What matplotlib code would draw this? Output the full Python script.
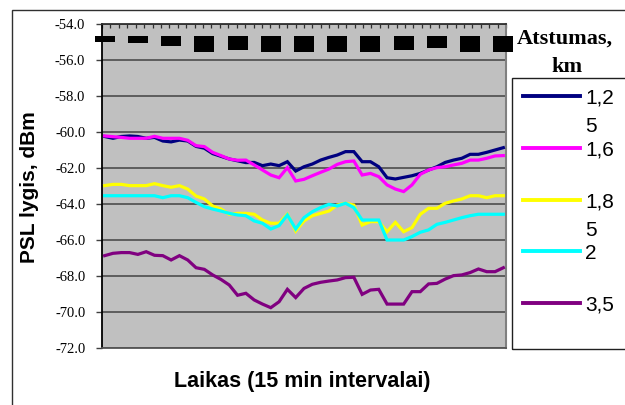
import numpy as np
import matplotlib
matplotlib.use("Agg")
import matplotlib.pyplot as plt
from matplotlib.patches import Rectangle
from matplotlib.lines import Line2D
from matplotlib.transforms import blended_transform_factory

# PSL lygis (dBm), viena reiksme kas 15 min
psl_1_25 = [-60.25, -60.35, -60.25, -60.22, -60.25, -60.35, -60.30, -60.50, -60.55, -60.45,
            -60.50, -60.80, -60.90, -61.20, -61.35, -61.50, -61.60,
            -61.70, -61.69, -61.87, -61.78, -61.87, -61.65, -62.17, -61.93, -61.78,
            -61.56, -61.41, -61.28, -61.09, -61.09, -61.65, -61.65,
            -61.93, -62.54, -62.61, -62.52, -62.43, -62.30, -62.11, -61.93, -61.69,
            -61.56, -61.46, -61.24, -61.24, -61.13, -61.00, -60.87]
psl_1_6 = [-60.22, -60.26, -60.30, -60.35, -60.35, -60.35, -60.24, -60.35, -60.35, -60.35,
           -60.46, -60.76, -60.81, -61.13, -61.31, -61.50, -61.57,
           -61.56, -61.83, -62.11, -62.39, -62.54, -61.98, -62.72, -62.63, -62.43,
           -62.24, -62.06, -61.80, -61.65, -61.61, -62.39, -62.30,
           -62.48, -62.94, -63.17, -63.31, -62.94, -62.35, -62.11, -61.98, -61.93,
           -61.83, -61.74, -61.56, -61.56, -61.46, -61.33, -61.31]
psl_1_85 = [-62.98, -62.91, -62.91, -62.98, -62.98, -62.98, -62.87, -62.98, -63.07, -62.98,
            -63.17, -63.56, -63.72, -64.11, -64.28, -64.57, -64.52,
            -64.52, -64.57, -64.89, -65.07, -65.07, -64.57, -65.50, -64.94, -64.65,
            -64.52, -64.39, -64.06, -63.96, -64.06, -65.17, -64.98,
            -64.98, -65.54, -65.02, -65.54, -65.31, -64.57, -64.24, -64.24, -63.96,
            -63.83, -63.72, -63.54, -63.54, -63.65, -63.54, -63.54]
psl_2 = [-63.54, -63.54, -63.54, -63.54, -63.54, -63.54, -63.54, -63.65, -63.54, -63.54,
         -63.65, -63.91, -64.15, -64.28, -64.39, -64.52, -64.61,
         -64.65, -64.94, -65.07, -65.39, -65.20, -64.61, -65.39, -64.76, -64.43,
         -64.20, -64.02, -64.11, -63.96, -64.20, -64.89, -64.89,
         -64.89, -66.00, -66.00, -66.00, -65.81, -65.57, -65.44, -65.13, -65.02,
         -64.89, -64.76, -64.65, -64.57, -64.57, -64.57, -64.57]
psl_3_5 = [-66.87, -66.74, -66.70, -66.70, -66.80, -66.65, -66.85, -66.87, -67.11, -66.87,
           -67.11, -67.54, -67.63, -67.94, -68.19, -68.50, -69.07,
           -68.96, -69.33, -69.56, -69.76, -69.43, -68.74, -69.20, -68.69, -68.46,
           -68.35, -68.28, -68.22, -68.09, -68.07, -69.02, -68.78,
           -68.74, -69.56, -69.56, -69.56, -68.87, -68.87, -68.44, -68.41, -68.17,
           -67.98, -67.94, -67.81, -67.61, -67.76, -67.76, -67.54]

serijos = [psl_1_25, psl_1_6, psl_1_85, psl_2, psl_3_5]
etiketes = ["1,2\n5", "1,6", "1,8\n5", "2", "3,5"]
spalvos = ["#000080", "#FF00FF", "#FFFF00", "#00FFFF", "#800080"]
y_ticks = [-54, -56, -58, -60, -62, -64, -66, -68, -70, -72]

# laiko etiketes originale matosi tik kaip juodi staciakampiai (kas 4 intervalus)
laiko_zymes = list(range(0, 49, 4))
zymiu_aukstis_px = [6, 7.6, 10, 16, 14.3, 16, 16, 16, 16, 14.3, 12, 16, 16]

W, H = 625, 405
serif = "Liberation Serif"
sans = "Liberation Sans"


def fx(px):
    return px / W


def fy(py):
    return 1 - py / H


fig = plt.figure(figsize=(W / 100, H / 100), dpi=100)
fig.patch.set_facecolor("white")

# isorinis remelis
fig.add_artist(Rectangle((fx(12), fy(420)), 1.0, fy(10) - fy(420), transform=fig.transFigure,
                         fill=False, edgecolor="#303030", linewidth=1.0))

ax = fig.add_axes([fx(102), fy(348), fx(506) - fx(102), fy(24) - fy(348)])
ax.set_facecolor("#C0C0C0")

x = np.arange(len(psl_1_25))
for vals, col in zip(serijos, spalvos):
    ax.plot(x, vals, color=col, linewidth=2.3, solid_joinstyle="miter", zorder=3)

ax.set_xlim(-0.32, len(x) - 1 + 0.32)
ax.set_ylim(-72, -54)
ax.set_yticks(y_ticks)
ax.set_yticklabels([f"{v:.1f}" for v in y_ticks], fontfamily=serif, fontsize=10.5)
ax.tick_params(axis="y", length=4, width=1.0, color="#404040", pad=8)
ax.yaxis.grid(True, color="#555555", linewidth=1.3)
ax.set_axisbelow(True)

# virsutines x asies zymes
ax.xaxis.tick_top()
ax.set_xticks(np.linspace(-0.32, len(x) - 1 + 0.32, 49))
ax.set_xticklabels([])
ax.tick_params(axis="x", direction="in", length=3, width=0.9, color="#303030")

ax.spines["left"].set_color("#000000")
ax.spines["left"].set_linewidth(1.3)
ax.spines["top"].set_color("#303030")
ax.spines["top"].set_linewidth(1.3)
ax.spines["bottom"].set_color("#555555")
ax.spines["bottom"].set_linewidth(1.3)
ax.spines["right"].set_color("#808080")
ax.spines["right"].set_linewidth(1.5)

# juodi staciakampiai vietoje laiko etikeciu
trans = blended_transform_factory(ax.transData, ax.transAxes)
plot_h = 348 - 24
px_per_unit = (506 - 102) / (len(x) - 1 + 0.64)
box_w = 20 / px_per_unit
box_top = 1 - (35.7 - 24) / plot_h
for xi, hpx in zip(laiko_zymes, zymiu_aukstis_px):
    ax.add_patch(Rectangle((xi - box_w / 2, box_top - hpx / plot_h), box_w, hpx / plot_h,
                           transform=trans, facecolor="black", edgecolor="none",
                           clip_on=False, zorder=4))

# asiu pavadinimai
fig.text(fx(30), fy(187), "PSL lygis, dBm", rotation=90, ha="center", va="center",
         fontfamily=sans, fontweight="bold", fontsize=15)
fig.text(fx(302), fy(381), "Laikas (15 min intervalai)", ha="center", va="center",
         fontfamily=sans, fontweight="bold", fontsize=15.5)

# legenda
fig.text(fx(565), fy(39), "Atstumas,", ha="center", va="center",
         fontfamily=serif, fontweight="bold", fontsize=16)
fig.text(fx(567), fy(67), "km", ha="center", va="center",
         fontfamily=serif, fontweight="bold", fontsize=16)
fig.add_artist(Rectangle((fx(512), fy(349)), 1.0, fy(78) - fy(349), transform=fig.transFigure,
                         fill=False, edgecolor="#202020", linewidth=1.0))
for k, (lab, col) in enumerate(zip(etiketes, spalvos)):
    yy = 96 + k * 51.8
    fig.add_artist(Line2D([fx(523), fx(580)], [fy(yy), fy(yy)], transform=fig.transFigure,
                          color=col, linewidth=2.8))
    for j, eil in enumerate(lab.split("\n")):
        fig.text(fx(585), fy(yy + 7.5 + j * 29), eil, ha="left", va="baseline",
                 fontfamily=sans, fontsize=15)

fig.savefig("out.png", dpi=100)
